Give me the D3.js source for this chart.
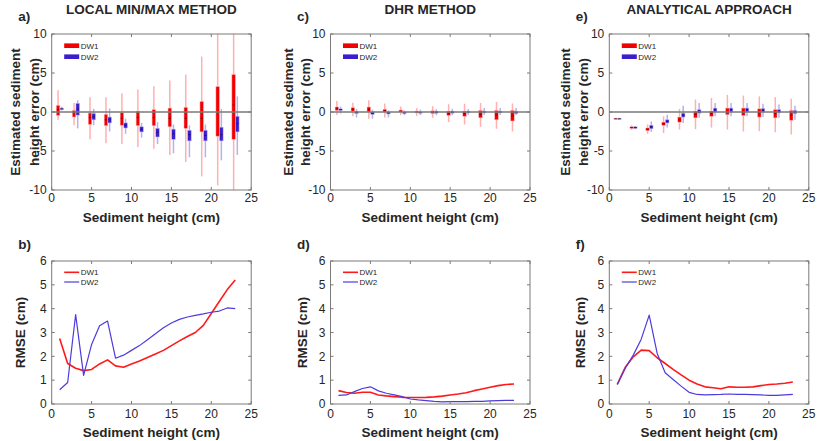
<!DOCTYPE html>
<html><head><meta charset="utf-8">
<script src="https://cdn.jsdelivr.net/npm/d3@7"></script>
<style>html,body{margin:0;padding:0;background:#fff}svg{display:block}</style>
</head><body>
<svg id="chart" width="817" height="441"></svg>
<script>
// ---------------- DATA ----------------
const boxHeights = [1,3,5,7,9,11,13,15,17,19,21,23];
const rmseHeights = d3.range(1,24);
const topYTicks = [-10,-5,0,5,10];
const xTicks = [0,5,10,15,20,25];
const bottomYTicks = [0,1,2,3,4,5,6];
const seriesNames = ["DW1","DW2"];
const panelTitles = ["LOCAL MIN/MAX METHOD","DHR METHOD","ANALYTICAL APPROACH"];
const topLetters = ["a)","c)","e)"];
const bottomLetters = ["b)","d)","f)"];

// box stats: [lowWhisker, q1, median, q3, highWhisker]
const minmaxDW1 = [[-1.0,-0.43,0.3,0.85,2.8],[-1.7,-0.64,0,0.2,1.15],[-3.5,-1.58,-0.7,-0.13,1.9],[-4.0,-1.75,-1.0,-0.3,1.9],
  [-4.1,-1.7,-0.8,-0.1,2.4],[-4.5,-1.75,-0.7,0.1,2.9],[-4.7,-1.75,-0.7,0.3,3.3],[-5.5,-1.9,-0.8,0.5,4.05],
  [-6.4,-2.1,-0.8,0.6,4.8],[-8.25,-2.55,-0.8,1.35,7.1],[-9.4,-3.1,0,3.25,10],[-10,-3.5,0.9,4.8,10]];
const minmaxDW2 = [[0.2,0.3,0.4,0.5,0.7],[-2.1,-0.4,0.4,1.1,1.5],[-1.7,-1.0,-0.6,-0.2,0.4],[-2.5,-1.4,-1.0,-0.65,0.45],
  [-2.8,-2.05,-1.7,-1.4,-0.85],[-3.3,-2.55,-2.2,-1.9,-1.4],[-4.1,-3.2,-2.6,-2.1,-1.3],[-5.3,-3.5,-2.8,-2.2,-1.6],
  [-5.8,-3.7,-2.9,-2.35,-1.7],[-5.8,-3.7,-3.0,-2.35,-1.6],[-6.2,-3.7,-2.9,-1.95,0.4],[-5.5,-2.55,-1.5,-0.55,2.0]];
const dhrDW1 = [[-0.4,0.2,0.5,0.64,1.4],[-0.55,0.1,0.35,0.55,1.2],[-0.85,0,0.3,0.64,1.5],[-0.7,0,0.2,0.35,1.1],
  [-0.4,0,0.1,0.25,0.7],[-0.5,-0.1,0,0.1,0.5],[-0.75,-0.2,-0.05,0.15,0.75],[-1.3,-0.45,-0.2,0.1,1.0],
  [-1.6,-0.55,-0.2,0.1,1.05],[-1.9,-0.75,-0.3,0.2,1.15],[-2.15,-1.0,-0.4,0.2,1.3],[-2.5,-1.15,-0.5,0.2,1.1]];
const dhrDW2 = [[-0.2,0.2,0.3,0.4,0.7],[-0.7,-0.2,-0.05,0.1,0.4],[-0.85,-0.3,-0.15,0,0.3],[-0.7,-0.25,-0.1,0,0.2],
  [-0.4,-0.2,-0.1,0,0.2],[-0.4,-0.1,-0.05,0,0.3],[-0.4,-0.15,0,0.1,0.35],[-0.4,-0.15,0,0.1,0.4],
  [-0.4,-0.1,0,0.1,0.4],[-0.4,-0.1,0,0.1,0.5],[-0.4,-0.1,0,0.1,0.5],[-0.4,-0.2,-0.05,0.1,0.5]];
const anaDW1 = [[-0.95,-0.9,-0.85,-0.8,-0.75],[-2.3,-2.1,-2.0,-1.9,-1.7],[-2.8,-2.4,-2.2,-2.05,-1.6],[-2.7,-1.7,-1.5,-1.3,-0.55],
  [-2.25,-1.3,-1.0,-0.65,0.4],[-2.2,-0.75,-0.3,0.1,1.6],[-2.0,-0.55,-0.2,0.1,1.8],[-2.25,-0.35,0,0.5,2.2],
  [-2.5,-0.45,0,0.5,2.1],[-2.45,-0.65,-0.1,0.4,2.0],[-2.6,-0.75,-0.2,0.3,1.9],[-2.9,-1.05,-0.4,0.2,1.7]];
const anaDW2 = [[-0.95,-0.9,-0.85,-0.8,-0.75],[-2.2,-2.1,-2.0,-1.9,-1.8],[-2.55,-2.15,-1.9,-1.7,-1.2],[-2.0,-1.4,-1.2,-1.0,-0.35],
  [-1.4,-0.65,-0.4,-0.15,0.8],[-0.75,-0.15,0.1,0.3,1.15],[-0.55,0,0.3,0.5,1.15],[-0.55,0,0.3,0.5,1.15],
  [-0.55,0,0.3,0.5,1.15],[-0.65,0,0.2,0.45,1.05],[-0.75,-0.1,0.1,0.3,0.95],[-1.0,-0.2,0,0.2,0.8]];

const rmseMinmaxDW1 = [2.75,1.7,1.5,1.4,1.45,1.68,1.85,1.6,1.54,1.68,1.8,1.95,2.1,2.25,2.45,2.65,2.83,3.0,3.3,3.8,4.3,4.8,5.2];
const rmseMinmaxDW2 = [0.6,0.9,3.75,1.2,2.5,3.28,3.48,1.92,2.05,2.25,2.45,2.7,2.95,3.2,3.4,3.55,3.65,3.72,3.78,3.85,3.9,4.03,4.0];
const rmseDhrDW1 = [0.56,0.48,0.45,0.49,0.49,0.38,0.34,0.31,0.28,0.27,0.27,0.28,0.3,0.33,0.38,0.42,0.47,0.56,0.63,0.7,0.77,0.82,0.84];
const rmseDhrDW2 = [0.36,0.38,0.52,0.65,0.72,0.55,0.45,0.38,0.31,0.21,0.17,0.14,0.11,0.09,0.1,0.1,0.1,0.11,0.11,0.13,0.14,0.15,0.15];
const rmseAnaDW1 = [0.82,1.54,1.98,2.26,2.24,1.94,1.7,1.45,1.22,1.0,0.84,0.72,0.68,0.64,0.72,0.7,0.7,0.72,0.77,0.82,0.84,0.87,0.92];
const rmseAnaDW2 = [0.82,1.5,2.05,2.72,3.73,2.12,1.31,1.03,0.75,0.49,0.4,0.38,0.39,0.4,0.42,0.4,0.4,0.39,0.38,0.36,0.36,0.38,0.4];

// ---------------- LAYOUT / STYLE ----------------
const svg = d3.select("#chart");
const FONT = "'Liberation Sans', Arial, Helvetica, sans-serif";
const plotLefts = [51.7, 330.5, 609.3];
const plotW = 199.5;
const topRow = {y0: 34, y1: 190};
const botRow = {y0: 261, y1: 404};
const frameColor = "#7a7a7a";
const textColor = "#262626";
const redFill = "#f00000", blueFill = "#3a1fcf";
const redWhisk = "#ffb0b0", blueWhisk = "#b6b2ec";
const redLine = "#ff1a1a", blueLine = "#4d3cdc";
const topYLabelX = [[15.5,34],[288,305],[565,583]];
const botYLabelX = [20.5, 301.7, 580];

const boxSets = [[minmaxDW1,minmaxDW2],[dhrDW1,dhrDW2],[anaDW1,anaDW2]];
const rmseSets = [[rmseMinmaxDW1,rmseMinmaxDW2],[rmseDhrDW1,rmseDhrDW2],[rmseAnaDW1,rmseAnaDW2]];

function drawFrame(g, x, y, xt, yt, tickLabelOffset) {
  const [x0,x1] = x.range(), [y1,y0] = y.range();
  // ticks inward on all four sides
  xt.forEach(t => {
    g.append("line").attr("x1",x(t)).attr("x2",x(t)).attr("y1",y1).attr("y2",y1-3).attr("stroke",frameColor);
    g.append("line").attr("x1",x(t)).attr("x2",x(t)).attr("y1",y0).attr("y2",y0+3).attr("stroke",frameColor);
    g.append("text").attr("x",x(t)).attr("y",y1+tickLabelOffset).attr("text-anchor","middle")
      .attr("font-family",FONT).attr("font-size",12).attr("fill",textColor).text(t);
  });
  yt.forEach(t => {
    g.append("line").attr("x1",x0).attr("x2",x0+3).attr("y1",y(t)).attr("y2",y(t)).attr("stroke",frameColor);
    g.append("line").attr("x1",x1).attr("x2",x1-3).attr("y1",y(t)).attr("y2",y(t)).attr("stroke",frameColor);
    g.append("text").attr("x",x0-5).attr("y",y(t)).attr("dy","0.36em").attr("text-anchor","end")
      .attr("font-family",FONT).attr("font-size",12).attr("fill",textColor).text(t);
  });
  g.append("rect").attr("x",x0).attr("y",y0).attr("width",x1-x0).attr("height",y1-y0)
    .attr("fill","none").attr("stroke",frameColor).attr("stroke-width",1);
}

function boldText(g, x, y, txt, anchor, rotate) {
  const t = g.append("text").attr("font-family",FONT).attr("font-weight","bold").attr("font-size",13.5)
    .attr("fill",textColor).attr("text-anchor",anchor||"middle").text(txt);
  if (rotate) t.attr("transform",`translate(${x},${y}) rotate(-90)`).attr("dy","0.36em");
  else t.attr("x",x).attr("y",y);
  return t;
}

// ---------------- TOP ROW: box plots ----------------
plotLefts.forEach((left, i) => {
  const g = svg.append("g");
  const x = d3.scaleLinear().domain([0,25]).range([left, left+plotW]);
  const y = d3.scaleLinear().domain([-10,10]).range([topRow.y1, topRow.y0]);
  const bw = x(0.44) - x(0);
  const offsets = [-0.2, 0.26];
  const whiskCols = [redWhisk, blueWhisk], fills = [redFill, blueFill];

  boxSets[i].forEach((set, s) => {
    const pos = h => x(h + offsets[s]);
    // whiskers
    g.selectAll(null).data(set).enter().append("line")
      .attr("x1",(d,k)=>pos(boxHeights[k])).attr("x2",(d,k)=>pos(boxHeights[k]))
      .attr("y1",d=>y(d[0])).attr("y2",d=>y(d[4]))
      .attr("stroke",whiskCols[s]).attr("stroke-width",1.5);
  });
  boxSets[i].forEach((set, s) => {
    const pos = h => x(h + offsets[s]);
    g.selectAll(null).data(set).enter().append("rect")
      .attr("x",(d,k)=>pos(boxHeights[k]) - bw/2).attr("width",bw)
      .attr("y",d=>y(d[3])).attr("height",d=>Math.max(1.2, y(d[1])-y(d[3])))
      .attr("fill",fills[s]).attr("stroke",whiskCols[s]).attr("stroke-width",0.5);
    g.selectAll(null).data(set).enter().append("line")
      .attr("x1",(d,k)=>pos(boxHeights[k]) - bw/2+0.5).attr("x2",(d,k)=>pos(boxHeights[k]) + bw/2-0.5)
      .attr("y1",d=>y(d[2])).attr("y2",d=>y(d[2]))
      .attr("stroke","#000").attr("stroke-opacity",0.55).attr("stroke-width",0.8);
  });
  // zero line
  g.append("line").attr("x1",x(0)).attr("x2",x(25)).attr("y1",y(0)).attr("y2",y(0))
    .attr("stroke","#7a7a7a").attr("stroke-width",1.6);

  drawFrame(g, x, y, xTicks, topYTicks, 12);

  // legend
  seriesNames.forEach((name, s) => {
    const ly = topRow.y0 + 11.7 + s*11;
    g.append("rect").attr("x",left+12.5).attr("y",ly-2.3).attr("width",15).attr("height",4.6).attr("fill",fills[s]);
    g.append("text").attr("x",left+29).attr("y",ly).attr("dy","0.36em").attr("font-family",FONT)
      .attr("font-size",8).attr("fill",textColor).text(name);
  });

  boldText(g, left + plotW/2, 13.5, panelTitles[i]);
  boldText(g, left - 33.5, 21, topLetters[i], "start");
  boldText(g, topYLabelX[i][0], (topRow.y0+topRow.y1)/2, "Estimated sediment", "middle", true);
  boldText(g, topYLabelX[i][1], (topRow.y0+topRow.y1)/2, "height error (cm)", "middle", true);
  boldText(g, left + plotW/2, 222, "Sediment height (cm)");
});

// ---------------- BOTTOM ROW: RMSE lines ----------------
plotLefts.forEach((left, i) => {
  const g = svg.append("g");
  const x = d3.scaleLinear().domain([0,25]).range([left, left+plotW]);
  const y = d3.scaleLinear().domain([0,6]).range([botRow.y1, botRow.y0]);
  const cols = [redLine, blueLine], widths = [1.6, 1.2];
  const line = d3.line().x((d,k)=>x(rmseHeights[k])).y(d=>y(d));
  rmseSets[i].forEach((vals, s) => {
    g.append("path").datum(vals).attr("d",line).attr("fill","none")
      .attr("stroke",cols[s]).attr("stroke-width",widths[s]).attr("stroke-linejoin","round");
  });
  drawFrame(g, x, y, xTicks, bottomYTicks, 14);
  seriesNames.forEach((name, s) => {
    const ly = botRow.y0 + 11.3 + s*9.7;
    g.append("line").attr("x1",left+12.5).attr("x2",left+27.5).attr("y1",ly).attr("y2",ly)
      .attr("stroke",cols[s]).attr("stroke-width",widths[s]);
    g.append("text").attr("x",left+29).attr("y",ly).attr("dy","0.36em").attr("font-family",FONT)
      .attr("font-size",8).attr("fill",textColor).text(name);
  });
  boldText(g, left - 33.5, 249, bottomLetters[i], "start");
  boldText(g, botYLabelX[i], (botRow.y0+botRow.y1)/2, "RMSE (cm)", "middle", true);
  boldText(g, left + plotW/2, 437, "Sediment height (cm)");
});
</script>
</body></html>
